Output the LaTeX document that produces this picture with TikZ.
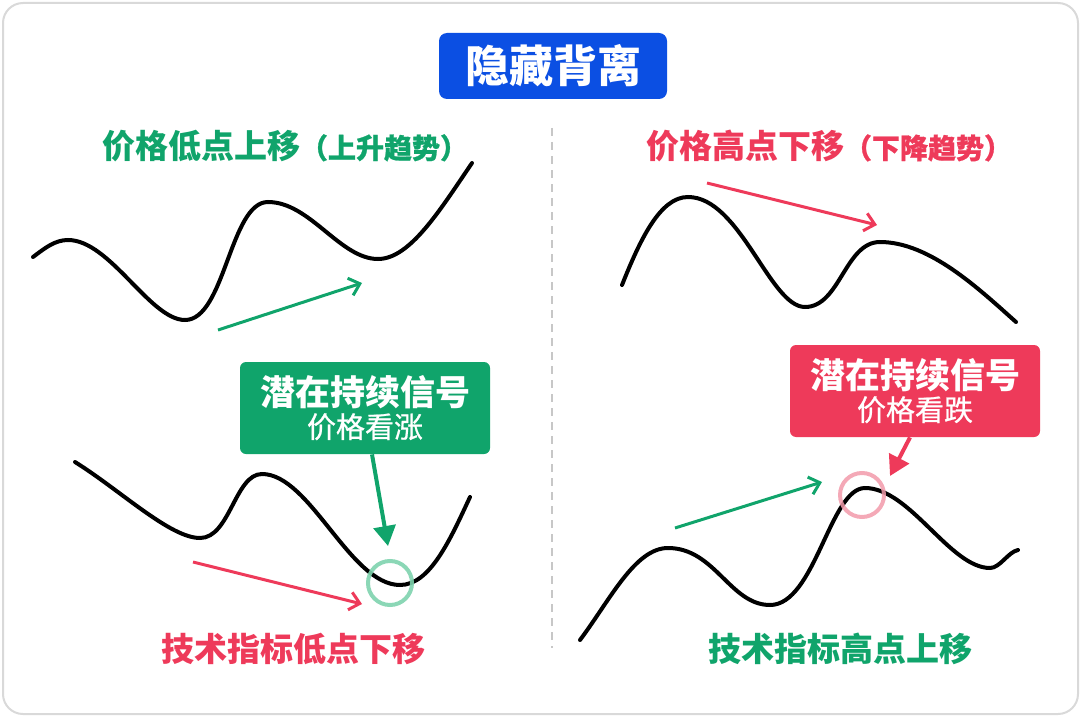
\documentclass[tikz,border=0pt]{standalone}
\usepackage{fontspec}
\setmainfont{Noto Sans CJK SC}
\newfontfamily\medcjk{Noto Sans CJK SC}[FakeBold=0.8]
\usetikzlibrary{arrows.meta,positioning}
\definecolor{TitleBlue}{HTML}{0B4FE3}
\definecolor{BullGreen}{HTML}{10A46B}
\definecolor{BearRed}{HTML}{EE3A5A}
\definecolor{RingGreen}{HTML}{7ED3AE}
\definecolor{RingPink}{HTML}{F29AAA}
\definecolor{FrameGray}{HTML}{D9D9D9}

\begin{document}
\begin{tikzpicture}[
  x=0.5pt, y=-0.5pt,
  curve/.style={line width=2pt, line cap=round, black},
  trendarrow/.style={line width=1.5pt, -{Straight Barb[length=5pt,width=9pt,line width=1.5pt]}},
  callarrow/.style={line width=2pt, -{Triangle[length=10pt,width=11pt]}},
  callbox/.style={rounded corners=3pt, minimum width=125pt, minimum height=46pt, align=center, text=white, inner sep=0pt},
  ring/.style={circle, minimum size=22pt, line width=2pt, inner sep=0pt},
  heading/.style={font=\fontsize{16.5}{19}\selectfont\bfseries, inner sep=0pt}
]
\useasboundingbox (0,0) rectangle (1081,717);
\draw[draw=FrameGray, line width=1pt, rounded corners=10pt] (3,3) rectangle (1078,714);

% title
\node[fill=TitleBlue, rounded corners=4pt, minimum width=114pt, minimum height=33pt, text=white,
  font=\fontsize{22}{26}\selectfont\bfseries] (title) at (553,66) {隐藏背离};

% divider
\coordinate (divtop) at (552,128);
\coordinate (divbot) at (552,648);
\draw[FrameGray!80!gray, line width=0.8pt, dashed, dash pattern=on 4pt off 3pt] (divtop) -- (divbot);

% left panel: price
\node[heading, text=BullGreen] (lefthead) at (285,146) {价格低点上移{\medcjk\fontsize{14}{16}\selectfont （上升趋势）}};
\draw[curve] (33,257) .. controls (45,248) and (55,240) .. (68,240)
  .. controls (110,240) and (150,320) .. (185,320)
  .. controls (225,320) and (230,202) .. (268,202)
  .. controls (310,202) and (340,259) .. (378,259)
  .. controls (410,259) and (440,210) .. (472,163);
\coordinate (upA) at (218,330);
\coordinate (upB) at (362,283);
\draw[trendarrow, BullGreen] (upA) -- (upB);

% left panel: indicator
\draw[curve] (75,462) .. controls (120,490) and (170,538) .. (200,538)
  .. controls (230,538) and (235,474) .. (262,474)
  .. controls (310,474) and (350,585) .. (400,585)
  .. controls (430,585) and (450,540) .. (470,497);
\coordinate (dnA) at (193,562);
\coordinate (dnB) at (362,604);
\draw[trendarrow, BearRed] (dnA) -- (dnB);
\node[ring, draw=RingGreen, draw opacity=0.9] (bullring) at (390,583) {};
\node[callbox, fill=BullGreen] (bullbox) at (365,408)
  {{\fontsize{17.5}{21}\selectfont\bfseries 潜在持续信号}\\[1pt]{\medcjk\fontsize{14.5}{17}\selectfont 价格看涨}};
\coordinate (bulltip) at (388,546);
\draw[callarrow, BullGreen] ([xshift=3.5pt]bullbox.south) -- (bulltip);
\node[heading, text=BearRed] (leftfoot) at (293,649) {技术指标低点下移};

% right panel: price
\node[heading, text=BearRed] (righthead) at (829,146) {价格高点下移{\medcjk\fontsize{14}{16}\selectfont （下降趋势）}};
\draw[curve] (622,285) .. controls (640,240) and (660,197) .. (688,197)
  .. controls (740,197) and (770,307) .. (805,307)
  .. controls (840,307) and (845,242) .. (880,242)
  .. controls (930,242) and (980,290) .. (1016,322);
\coordinate (hiA) at (707,183);
\coordinate (hiB) at (877,225);
\draw[trendarrow, BearRed] (hiA) -- (hiB);

% right panel: indicator
\draw[curve] (580,640) .. controls (610,600) and (635,548) .. (668,548)
  .. controls (715,548) and (730,605) .. (770,605)
  .. controls (815,605) and (830,488) .. (865,488)
  .. controls (910,488) and (950,568) .. (990,568)
  .. controls (1000,568) and (1008,552) .. (1018,550);
\coordinate (riseA) at (675,528);
\coordinate (riseB) at (822,482);
\draw[trendarrow, BullGreen] (riseA) -- (riseB);
\node[ring, draw=RingPink, draw opacity=0.85] (bearring) at (862,495) {};
\node[callbox, fill=BearRed] (bearbox) at (915,391)
  {{\fontsize{17.5}{21}\selectfont\bfseries 潜在持续信号}\\[1pt]{\medcjk\fontsize{14.5}{17}\selectfont 价格看跌}};
\coordinate (beartip) at (890,476);
\draw[callarrow, BearRed] ([xshift=-2.5pt]bearbox.south) -- (beartip);
\node[heading, text=BullGreen] (rightfoot) at (840,649) {技术指标高点上移};
\end{tikzpicture}
\end{document}
